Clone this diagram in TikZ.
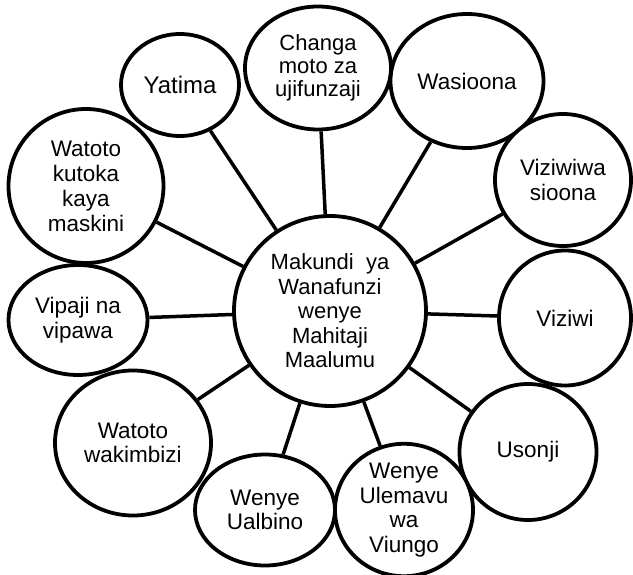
\documentclass[tikz,border=0pt]{standalone}
\usepackage{fontspec}
\setmainfont{Liberation Sans}
\usepackage{tikz}
\usetikzlibrary{shapes.geometric}

\begin{document}
\begin{tikzpicture}[x=1pt,y=-1pt,
  bubble/.style={draw,ellipse,line width=3.8pt,fill=white,inner sep=0pt,
                 align=center,font=\fontsize{22.5}{24.5}\selectfont},
  spoke/.style={line width=3.5pt}]
\useasboundingbox (0,0) rectangle (633,575);

% hub
\node[bubble,minimum width=192,minimum height=190,font=\fontsize{22}{24.5}\selectfont]
  (makundi) at (330,311) {Makundi\ \ ya\\Wanafunzi\\wenye\\Mahitaji\\Maalumu};

% outer groups
\node[bubble,minimum width=118,minimum height=102,font=\fontsize{24}{26}\selectfont]
  (yatima) at (180,85) {Yatima};
\node[bubble,minimum width=146,minimum height=123,font=\fontsize{22}{23}\selectfont]
  (changa) at (318,68) {Changa\\moto za\\ujifunzaji};
\node[bubble,minimum width=153,minimum height=134] (wasioona) at (467,81) {Wasioona};
\node[bubble,minimum width=136,minimum height=132] (viziwiwa) at (563,180) {Viziwiwa\\sioona};
\node[bubble,minimum width=132,minimum height=135] (viziwi) at (565,318) {Viziwi};
\node[bubble,minimum width=137,minimum height=136] (usonji) at (528,452) {Usonji};
\node[bubble,minimum width=138,minimum height=126] (ulemavu) at (404,510) {Wenye\\Ulemavu\\wa\\Viungo};
\node[bubble,minimum width=140,minimum height=111] (ualbino) at (265,510) {Wenye\\Ualbino};
\node[bubble,minimum width=156,minimum height=145] (wakimbizi) at (133,443) {Watoto\\wakimbizi};
\node[bubble,minimum width=139,minimum height=110] (vipaji) at (78,320) {Vipaji na\\vipawa};
\node[bubble,minimum width=155,minimum height=154,font=\fontsize{22.5}{25}\selectfont]
  (maskini) at (86,186) {Watoto\\kutoka\\kaya\\maskini};

% spokes
\foreach \g in {yatima,changa,wasioona,viziwiwa,viziwi,usonji,
                ulemavu,ualbino,wakimbizi,vipaji,maskini}
  \draw[spoke] (makundi) -- (\g);
\end{tikzpicture}
\end{document}
